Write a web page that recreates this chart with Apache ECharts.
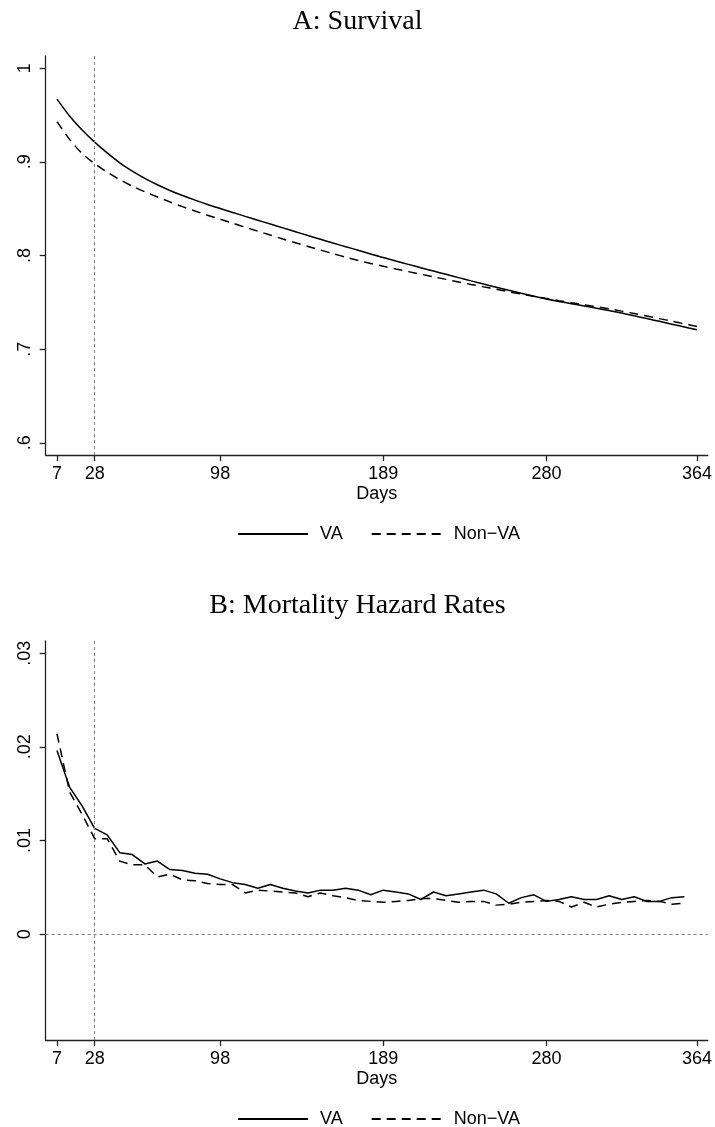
<!DOCTYPE html>
<html><head><meta charset="utf-8">
<script src="https://cdn.jsdelivr.net/npm/echarts@6/dist/echarts.min.js"></script>
<style>html,body{margin:0;padding:0;background:#fff}#c{width:715px;height:1127px}</style>
</head><body><div id="c"></div>
<script>
const survDays = [7,14,21,28,35,42,49,56,63,70,77,84,91,98,105,112,119,126,133,140,147,154,161,168,175,182,189,196,203,210,217,224,231,238,245,252,259,266,273,280,287,294,301,308,315,322,329,336,343,350,357,364];
const survVA = [0.967,0.949,0.934,0.921,0.9095,0.899,0.8902,0.8824,0.8755,0.8694,0.8640,0.8591,0.8545,0.8502,0.8460,0.8418,0.8377,0.8336,0.8295,0.8254,0.8213,0.8173,0.8133,0.8094,0.8056,0.8015,0.7978,0.7941,0.7905,0.7869,0.7834,0.7799,0.7764,0.7729,0.7695,0.7661,0.7628,0.7596,0.7565,0.7536,0.7510,0.7486,0.7462,0.7438,0.7413,0.7385,0.7356,0.7327,0.7297,0.7267,0.7237,0.7207];
const survNonVA = [0.943,0.924,0.909,0.898,0.889,0.881,0.874,0.868,0.8625,0.8572,0.8522,0.8475,0.8430,0.8388,0.8345,0.8302,0.8260,0.8218,0.8177,0.8137,0.8097,0.8058,0.8020,0.7983,0.7947,0.7915,0.7885,0.7856,0.7828,0.7800,0.7772,0.7745,0.7718,0.7691,0.7665,0.7639,0.7613,0.7588,0.7564,0.7541,0.7518,0.7496,0.7474,0.7452,0.7430,0.7406,0.7380,0.7353,0.7326,0.7299,0.7271,0.7243];
const hazDays = [7,14,21,28,35,42,49,56,63,70,77,84,91,98,105,112,119,126,133,140,147,154,161,168,175,182,189,196,203,210,217,224,231,238,245,252,259,266,273,280,287,294,301,308,315,322,329,336,343,350,357];
const hazVA = [0.0196,0.0157,0.0137,0.0113,0.0106,0.0087,0.0085,0.0075,0.0078,0.0069,0.0068,0.0065,0.0064,0.0059,0.0055,0.0053,0.0049,0.0053,0.0049,0.0046,0.0044,0.0047,0.0047,0.0049,0.0047,0.0042,0.0047,0.0045,0.0043,0.0037,0.0045,0.0041,0.0043,0.0045,0.0047,0.0043,0.0033,0.0039,0.0042,0.0035,0.0037,0.0040,0.0037,0.0037,0.0041,0.0037,0.0040,0.0035,0.0035,0.0039,0.0040];
const hazNonVA = [0.0214,0.0152,0.0128,0.0102,0.0102,0.0078,0.0074,0.0074,0.0061,0.0064,0.0058,0.0057,0.0054,0.0053,0.0053,0.0044,0.0047,0.0046,0.0045,0.0044,0.0040,0.0044,0.0041,0.0039,0.0036,0.0035,0.0034,0.0035,0.0036,0.0038,0.0038,0.0036,0.0034,0.0035,0.0035,0.0031,0.0032,0.0034,0.0035,0.0036,0.0035,0.0029,0.0034,0.0029,0.0032,0.0034,0.0035,0.0036,0.0035,0.0032,0.0033];
const xTicks = [7,28,98,189,280,364];
const survTicks = [0.6,0.7,0.8,0.9,1];
const hazTicks = [0,0.01,0.02,0.03];
const seriesNames = ['VA','Non\u2212VA'];
const titles = ['A: Survival','B: Mortality Hazard Rates'];

const SANS = 'Liberation Sans, Arial, Helvetica, sans-serif';
const SERIF = 'Liberation Serif, Times New Roman, serif';
const fmtY = v => { const s = String(+(+v).toFixed(3)); return s.replace(/^0\./,'.'); };
const pair = (xs, ys) => xs.map((x,i)=>[x, ys[i]]);
const refStyle = {color:'#808080', width:1, type:[3,3]};

function xAxisCfg(gi){
  return {
    gridIndex: gi, type:'value', min:0.7, max:370,
    name:'Days', nameLocation:'middle', nameGap:30,
    nameTextStyle:{fontFamily:SANS, fontSize:18, color:'#000'},
    axisLine:{onZero:false, lineStyle:{color:'#222', width:1.3}},
    axisTick:{customValues:xTicks, length:6, lineStyle:{color:'#222', width:1.3}},
    axisLabel:{customValues:xTicks, margin:10, fontFamily:SANS, fontSize:18, color:'#000'},
    splitLine:{show:false}
  };
}
function yAxisCfg(gi, mn, mx, ticks){
  return {
    gridIndex: gi, type:'value', min:mn, max:mx,
    axisLine:{show:true, lineStyle:{color:'#222', width:1.3}},
    axisTick:{show:true, customValues:ticks, length:6, lineStyle:{color:'#222', width:1.3}},
    axisLabel:{customValues:ticks, rotate:90, margin:12, fontFamily:SANS, fontSize:18, color:'#000', formatter:fmtY},
    splitLine:{show:false}
  };
}
const solid = {color:'#000', width:1.5, type:'solid'};
const dashed = {color:'#000', width:1.5, type:[9,6]};
const legendCommon = {itemWidth:70, itemHeight:14, itemGap:28, icon:'inherit', data:seriesNames,
  itemStyle:{opacity:0}, selectedMode:false,
  textStyle:{fontFamily:SANS, fontSize:18, color:'#000', padding:[0,0,0,7]}};

const option = {
  backgroundColor:'#fff',
  animation:false,
  color:['#000','#000'],
  title:[
    {text:titles[0], left:'center', top:3, textStyle:{fontFamily:SERIF, fontWeight:'normal', fontSize:28, color:'#000'}},
    {text:titles[1], left:'center', top:587, textStyle:{fontFamily:SERIF, fontWeight:'normal', fontSize:28, color:'#000'}}
  ],
  legend:[
    Object.assign({left:232, top:520}, legendCommon),
    Object.assign({left:232, top:1105}, legendCommon)
  ],
  grid:[
    {left:45.7, right:4, top:56, height:399},
    {left:45.7, right:4, top:641, height:399}
  ],
  xAxis:[xAxisCfg(0), xAxisCfg(1)],
  yAxis:[yAxisCfg(0, 0.587, 1.013, survTicks), yAxisCfg(1, -0.0113, 0.0313, hazTicks)],
  series:[
    {name:seriesNames[0], type:'line', xAxisIndex:0, yAxisIndex:0, data:pair(survDays, survVA), symbol:'none', smooth:0.3, itemStyle:{color:'#000'}, lineStyle:solid,
     markLine:{silent:true, symbol:'none', label:{show:false}, lineStyle:refStyle, data:[{xAxis:28}]}},
    {name:seriesNames[1], type:'line', xAxisIndex:0, yAxisIndex:0, data:pair(survDays, survNonVA), symbol:'none', smooth:0.3, itemStyle:{color:'#000'}, lineStyle:dashed},
    {name:seriesNames[0], type:'line', xAxisIndex:1, yAxisIndex:1, data:pair(hazDays, hazVA), symbol:'none', itemStyle:{color:'#000'}, lineStyle:solid,
     markLine:{silent:true, symbol:'none', label:{show:false}, lineStyle:refStyle, data:[{xAxis:28},{yAxis:0}]}},
    {name:seriesNames[1], type:'line', xAxisIndex:1, yAxisIndex:1, data:pair(hazDays, hazNonVA), symbol:'none', itemStyle:{color:'#000'}, lineStyle:dashed}
  ]
};
const chart = echarts.init(document.getElementById('c'), null, {renderer:'canvas'});
chart.setOption(option);
</script></body></html>
